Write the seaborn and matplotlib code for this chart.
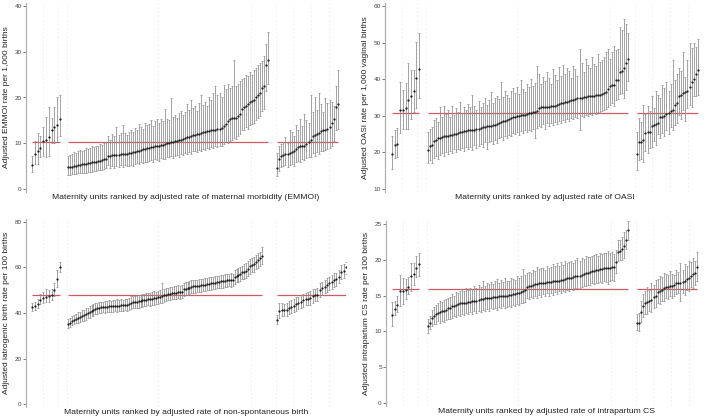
import numpy as np
import pandas as pd
import matplotlib
matplotlib.use("Agg")
import matplotlib.pyplot as plt
import seaborn as sns

# ---------------- DATA ----------------
# Panel 1: EMMOI (per 1,000 births)
emmoi_avg = 10.3
emmoi_g1_est = [5.3, 7.7, 8.2, 9.0, 10.5, 10.6, 11.4, 13.0, 13.5, 14.0, 15.3]
emmoi_g1_lo = [3.8, 5.5, 5.5, 7.0, 7.3, 7.0, 7.2, 10.0, 10.0, 10.2, 11.5]
emmoi_g1_hi = [7.3, 10.5, 12.2, 11.5, 13.5, 15.8, 18.0, 15.6, 18.0, 20.0, 20.5]
emmoi_g2_est = [4.7, 4.8, 4.9, 5.0, 5.1, 5.2, 5.3, 5.4, 5.5, 5.5,
                5.6, 5.7, 5.8, 5.9, 6.0, 6.1, 6.2, 6.3, 6.5, 6.6,
                7.3, 7.3, 7.4, 7.4, 7.5, 7.5, 7.6, 7.6, 7.7, 7.7,
                7.8, 7.9, 8.0, 8.1, 8.2, 8.4, 8.5, 8.7, 8.8, 8.9,
                9.0, 9.1, 9.2, 9.3, 9.4, 9.5, 9.6, 9.7, 9.8, 10.0,
                10.1, 10.2, 10.3, 10.4, 10.5, 10.6, 10.7, 10.9, 11.1, 11.3,
                11.4, 11.5, 11.7, 11.8, 12.0, 12.1, 12.3, 12.4, 12.5, 12.6,
                12.7, 12.8, 12.9, 13.0, 13.1, 13.2, 13.3, 13.8, 14.3, 14.8,
                15.2, 15.5, 15.5, 15.6, 16.0, 16.5, 17.5, 18.0, 18.2, 18.5,
                19.0, 19.2, 19.5, 20.0, 20.5, 21.0, 22.0, 22.5, 27.0, 28.3]
emmoi_g2_lo = [3.0, 3.1, 3.2, 3.3, 3.3, 3.4, 3.5, 3.5, 3.6, 3.6,
               3.7, 3.8, 3.8, 3.9, 4.0, 4.1, 4.1, 4.2, 4.4, 4.5,
               5.2, 4.5, 5.0, 4.6, 5.1, 4.7, 5.3, 4.8, 5.2, 5.0,
               5.1, 5.3, 5.0, 5.5, 5.6, 5.4, 5.9, 5.7, 6.0, 5.8,
               6.1, 6.3, 6.0, 6.5, 6.4, 6.2, 6.8, 6.6, 6.5, 7.0,
               6.9, 7.2, 6.8, 7.3, 7.5, 7.1, 7.6, 7.4, 7.9, 7.7,
               8.0, 7.6, 8.2, 8.4, 8.1, 8.6, 8.3, 8.8, 8.5, 9.0,
               8.8, 9.2, 9.0, 9.3, 9.1, 9.5, 9.4, 9.8, 10.2, 10.0,
               10.5, 10.8, 11.2, 10.9, 11.5, 12.0, 12.8, 13.0, 13.5, 13.2,
               14.0, 14.3, 14.5, 15.0, 15.5, 16.0, 17.0, 17.5, 21.5, 23.0]
emmoi_g2_hi = [7.3, 7.5, 7.6, 8.0, 7.9, 8.2, 8.5, 8.3, 8.6, 8.9,
               8.7, 9.0, 9.3, 9.1, 9.5, 9.4, 9.8, 9.6, 10.0, 10.2,
               11.5, 10.8, 12.0, 11.6, 13.5, 11.8, 12.3, 14.0, 12.2, 11.9,
               12.5, 13.0, 12.4, 13.4, 12.8, 14.1, 13.6, 13.2, 14.5, 13.9,
               14.2, 15.0, 13.8, 14.8, 15.2, 14.4, 15.4, 14.9, 17.5, 15.3,
               15.0, 19.8, 15.8, 16.2, 15.5, 16.6, 17.0, 16.2, 16.9, 18.5,
               17.3, 19.5, 17.8, 18.2, 17.0, 18.8, 20.5, 18.4, 19.0, 18.2,
               20.0, 19.4, 21.0, 22.5, 20.5, 21.0, 20.0, 22.8, 21.8, 23.0,
               22.0, 22.5, 28.3, 22.6, 23.0, 23.5, 24.0, 24.2, 25.0, 24.8,
               25.5, 25.0, 26.0, 26.5, 27.0, 27.5, 28.0, 29.0, 31.8, 34.3]
emmoi_g3_est = [4.6, 6.5, 7.2, 7.5, 7.6, 7.7, 7.8, 8.0, 8.3, 8.7, 9.1, 9.4, 9.5, 9.5, 9.8,
                10.3, 10.6, 11.5, 11.7, 12.0, 12.3, 12.6, 12.8, 12.9, 13.1, 13.5, 14.5, 15.3, 18.0, 18.5]
emmoi_g3_lo = [2.9, 4.0, 4.8, 5.0, 5.2, 4.9, 5.3, 5.5, 5.0, 5.8, 6.2, 6.0, 6.5, 6.3, 6.8,
               7.0, 6.9, 7.8, 7.3, 8.0, 7.6, 8.3, 8.2, 8.6, 8.8, 9.0, 9.5, 10.5, 13.0, 13.2]
emmoi_g3_hi = [7.8, 9.3, 9.8, 10.2, 11.3, 10.0, 12.8, 12.5, 11.5, 14.0, 12.8, 15.2, 13.8, 16.5, 15.0,
               14.5, 20.5, 16.8, 20.2, 17.2, 21.0, 18.5, 16.8, 19.8, 18.8, 19.5, 19.0, 18.2, 22.6, 26.0]

# Panel 2: OASI (per 1,000 vaginal births)
oasi_avg = 30.7
oasi_g1_est = [19.5, 22.0, 22.4, 31.5, 31.5, 32.2, 34.3, 35.3, 36.7, 40.2, 42.8]
oasi_g1_lo = [15.5, 18.5, 18.8, 25.2, 26.5, 26.5, 26.5, 29.0, 31.0, 32.0, 34.8]
oasi_g1_hi = [24.5, 26.0, 26.8, 39.3, 37.0, 39.0, 44.5, 42.5, 42.5, 50.3, 52.7]
oasi_g2_est = [20.7, 21.8, 22.0, 23.0, 23.3, 23.8, 24.0, 24.2, 24.4, 24.5,
               24.6, 24.7, 24.8, 25.0, 25.0, 25.2, 25.5, 25.7, 25.8, 25.9,
               26.0, 26.0, 26.1, 26.2, 26.3, 26.5, 26.7, 26.9, 27.0, 27.1,
               27.2, 27.3, 27.4, 27.5, 27.7, 28.0, 28.3, 28.5, 28.6, 28.8,
               29.0, 29.3, 29.6, 29.8, 29.9, 30.0, 30.1, 30.2, 30.3, 30.5,
               30.7, 30.9, 31.0, 31.1, 31.3, 32.2, 32.3, 32.4, 32.4, 32.5,
               32.5, 32.6, 32.7, 32.8, 33.0, 33.2, 33.4, 33.5, 33.7, 33.9,
               34.0, 34.2, 34.4, 34.6, 34.8, 34.9, 35.0, 35.1, 35.2, 35.3,
               35.4, 35.5, 35.5, 35.6, 35.7, 35.8, 35.9, 36.2, 36.5, 37.3,
               38.2, 38.4, 38.5, 39.8, 39.9, 42.0, 42.3, 43.0, 44.5, 45.5]
oasi_g2_lo = [17.0, 18.0, 17.2, 18.5, 19.0, 18.3, 19.2, 19.8, 18.9, 20.2,
              19.5, 20.4, 19.9, 20.8, 20.0, 21.0, 20.6, 21.2, 20.3, 21.5,
              20.9, 21.6, 20.7, 22.0, 21.3, 21.8, 22.4, 21.5, 22.8, 21.0,
              22.9, 23.2, 22.3, 23.5, 22.7, 23.9, 24.2, 23.4, 24.5, 23.8,
              24.8, 24.4, 25.2, 24.9, 25.5, 24.7, 25.8, 25.3, 26.0, 25.6,
              26.2, 25.9, 26.5, 24.0, 26.8, 27.3, 26.9, 27.7, 26.4, 27.9,
              27.2, 28.1, 27.5, 28.3, 27.8, 28.6, 28.0, 28.9, 28.4, 29.2,
              28.7, 29.5, 29.0, 29.8, 29.3, 26.0, 30.0, 29.6, 30.3, 29.9,
              30.5, 30.1, 30.8, 30.4, 31.0, 30.7, 31.3, 31.5, 31.8, 32.5,
              33.0, 33.4, 32.8, 34.2, 34.5, 36.0, 36.3, 34.8, 37.0, 39.5]
oasi_g2_hi = [25.5, 26.5, 27.0, 28.8, 29.5, 28.3, 32.5, 29.8, 32.8, 30.5,
              31.5, 29.6, 32.8, 30.2, 32.0, 31.0, 33.8, 30.8, 32.4, 31.6,
              33.2, 32.3, 35.8, 32.8, 31.6, 34.0, 32.5, 33.5, 35.0, 33.0,
              34.2, 36.5, 33.6, 34.8, 35.5, 34.6, 39.3, 35.2, 36.8, 35.8,
              35.0, 36.7, 37.5, 36.2, 38.0, 36.0, 39.8, 37.2, 36.5, 38.6,
              37.8, 40.0, 38.2, 39.0, 43.5, 41.5, 38.8, 40.5, 39.5, 42.0,
              40.2, 38.8, 42.8, 41.2, 39.8, 43.2, 40.8, 44.0, 41.5, 43.0,
              42.2, 40.4, 43.5, 42.8, 41.0, 48.2, 44.5, 42.0, 45.5, 43.8,
              43.0, 46.0, 44.2, 43.6, 47.0, 44.8, 45.2, 46.2, 47.5, 48.2,
              45.5, 47.5, 49.0, 48.0, 48.3, 54.2, 53.5, 56.5, 55.0, 52.5]
oasi_g3_est = [19.5, 22.8, 22.9, 23.5, 25.4, 25.5, 25.6, 27.3, 27.5, 27.8, 28.0, 29.6, 29.8, 29.9, 30.5,
               30.8, 31.3, 31.5, 33.0, 33.5, 35.5, 35.8, 36.2, 36.5, 36.8, 38.0, 39.3, 40.0, 41.5, 42.5]
oasi_g3_lo = [15.2, 17.8, 18.2, 17.3, 20.5, 19.8, 21.2, 21.5, 23.0, 22.0, 25.0, 23.8, 25.2, 24.6, 26.0,
              25.0, 27.0, 26.2, 27.5, 28.0, 30.2, 29.0, 31.5, 28.6, 32.0, 33.0, 32.5, 35.5, 35.5, 35.8]
oasi_g3_hi = [25.5, 29.3, 28.2, 33.0, 30.5, 32.8, 31.2, 35.5, 32.2, 36.8, 35.8, 35.0, 38.3, 37.5, 39.3,
              36.8, 38.6, 45.3, 39.8, 41.5, 43.0, 42.2, 47.5, 40.5, 45.2, 49.8, 48.5, 50.0, 48.8, 51.0]

# Panel 3: iatrogenic / non-spontaneous birth (per 100 births)
iatro_avg = 48.0
iatro_g1_est = [42.7, 43.0, 43.9, 45.6, 46.8, 47.1, 47.4, 48.0, 50.3, 55.1, 60.0]
iatro_g1_lo = [41.0, 41.5, 42.0, 43.8, 44.5, 44.8, 44.8, 45.5, 47.5, 51.5, 57.8]
iatro_g1_hi = [44.5, 44.8, 46.0, 48.2, 49.2, 50.5, 50.3, 50.6, 53.2, 58.7, 62.2]
iatro_g2_est = [35.3, 35.8, 36.5, 37.0, 37.5, 37.9, 38.3, 38.7, 39.0, 39.5,
                40.0, 40.5, 41.0, 41.3, 41.8, 42.0, 42.3, 42.5, 42.6, 42.7,
                42.8, 42.9, 43.0, 43.0, 43.1, 43.1, 43.2, 43.3, 43.4, 43.5,
                43.6, 43.8, 44.6, 44.8, 44.9, 45.0, 45.1, 45.3, 45.5, 45.7,
                45.9, 46.0, 46.1, 46.3, 46.5, 46.7, 46.9, 47.2, 47.5, 47.8,
                48.1, 48.3, 48.5, 48.7, 48.9, 49.0, 49.1, 49.2, 49.3, 50.4,
                50.6, 50.9, 51.2, 51.5, 51.7, 51.8, 51.9, 52.0, 52.1, 52.3,
                52.5, 52.7, 52.9, 53.0, 53.1, 53.3, 53.5, 53.7, 53.9, 54.1,
                54.2, 54.3, 54.4, 54.5, 54.6, 55.8, 56.3, 56.8, 57.2, 57.8,
                58.2, 58.6, 59.5, 60.5, 61.0, 61.5, 62.5, 63.2, 64.0, 65.0]
iatro_g2_lo = [33.5, 33.9, 34.6, 35.0, 35.4, 35.6, 36.0, 36.3, 36.7, 37.0,
               37.6, 37.9, 38.6, 38.8, 39.4, 39.5, 39.9, 40.0, 40.3, 40.2,
               40.4, 40.5, 40.6, 40.4, 40.7, 40.6, 40.9, 40.8, 41.0, 41.1,
               41.0, 41.3, 41.9, 42.2, 42.1, 42.4, 42.3, 42.6, 42.7, 43.0,
               43.1, 43.4, 43.2, 43.6, 43.7, 44.0, 44.0, 44.5, 44.3, 45.0,
               45.3, 45.5, 45.6, 46.0, 46.1, 46.2, 46.4, 46.3, 46.6, 47.5,
               47.8, 48.0, 48.4, 48.6, 49.0, 48.9, 49.2, 49.1, 49.4, 49.5,
               49.8, 49.9, 50.2, 50.1, 50.4, 50.5, 50.8, 50.9, 51.2, 51.2,
               51.5, 51.4, 51.7, 51.6, 51.9, 52.8, 53.5, 53.7, 54.2, 54.8,
               55.0, 55.5, 56.3, 57.3, 57.8, 58.2, 59.3, 59.6, 60.6, 61.5]
iatro_g2_hi = [37.5, 37.8, 38.6, 39.2, 39.7, 40.3, 40.6, 41.2, 41.4, 42.0,
               42.4, 43.1, 43.4, 43.9, 44.2, 44.6, 44.7, 45.0, 45.0, 45.3,
               45.2, 45.5, 45.4, 45.7, 45.5, 46.0, 45.6, 46.1, 45.9, 46.2,
               46.3, 46.4, 47.3, 47.5, 47.6, 47.7, 47.9, 48.1, 48.4, 48.2,
               48.8, 48.7, 49.0, 49.2, 49.5, 49.4, 49.8, 50.0, 53.0, 50.6,
               51.0, 51.1, 51.4, 51.5, 51.9, 51.8, 52.1, 52.0, 52.3, 53.2,
               53.5, 53.7, 54.0, 54.3, 54.4, 54.6, 54.7, 54.9, 54.8, 55.1,
               55.3, 55.4, 55.7, 55.8, 56.0, 56.1, 56.3, 56.4, 56.7, 56.9,
               57.0, 57.2, 57.2, 57.4, 57.3, 58.7, 59.2, 59.8, 60.2, 60.8,
               61.4, 61.8, 62.8, 63.8, 64.3, 64.8, 65.7, 66.2, 67.0, 68.8]
iatro_g3_est = [37.0, 41.0, 41.2, 41.3, 41.5, 42.2, 42.8, 43.2, 44.0, 44.3, 44.9, 45.5, 46.0, 46.3, 46.6,
                47.3, 47.8, 48.0, 50.0, 50.8, 51.5, 52.3, 53.0, 53.5, 54.5, 54.8, 56.0, 58.0, 58.5, 60.0]
iatro_g3_lo = [35.0, 38.0, 38.5, 38.7, 38.8, 39.4, 40.0, 40.5, 41.0, 41.6, 42.0, 42.8, 43.3, 43.5, 43.5,
               44.3, 45.2, 45.3, 47.0, 48.0, 48.6, 49.3, 50.2, 50.6, 51.6, 51.8, 53.0, 55.0, 55.5, 57.3]
iatro_g3_hi = [39.2, 44.5, 44.2, 44.0, 44.5, 45.2, 45.6, 46.0, 47.0, 47.2, 47.9, 48.3, 48.8, 49.2, 49.8,
               50.4, 50.6, 50.9, 53.0, 53.8, 54.5, 55.2, 55.8, 56.5, 57.5, 57.6, 59.0, 61.0, 61.5, 62.5]

# Panel 4: intrapartum CS (per 100 births)
cs_avg = 15.9
cs_g1_est = [12.3, 13.1, 13.7, 15.6, 15.7, 15.8, 16.2, 17.8, 18.0, 18.9, 19.4]
cs_g1_lo = [10.8, 12.3, 12.7, 13.6, 13.8, 14.5, 15.2, 15.7, 16.5, 17.6, 17.8]
cs_g1_hi = [14.1, 14.2, 14.9, 17.9, 17.5, 17.3, 17.6, 19.6, 19.6, 20.5, 21.0]
cs_g2_est = [10.7, 11.2, 11.9, 12.2, 12.4, 12.6, 12.7, 12.8, 12.9, 13.0,
             13.2, 13.3, 13.5, 13.6, 13.7, 13.8, 13.9, 14.0, 14.0, 14.0,
             14.1, 14.1, 14.2, 14.3, 14.3, 14.4, 14.5, 14.5, 14.6, 14.6,
             14.7, 14.7, 14.8, 14.8, 14.8, 14.9, 14.9, 15.0, 15.0, 15.0,
             15.1, 15.1, 15.2, 15.2, 15.3, 15.4, 15.5, 15.6, 15.8, 16.2,
             16.3, 16.4, 16.5, 16.6, 16.6, 16.7, 16.7, 16.8, 16.8, 16.9,
             16.9, 16.9, 17.0, 17.0, 17.1, 17.1, 17.2, 17.2, 17.3, 17.4,
             17.5, 17.5, 17.6, 17.7, 17.7, 17.8, 17.9, 18.0, 18.1, 18.2,
             18.3, 18.4, 18.5, 18.6, 18.6, 18.7, 18.7, 18.8, 18.8, 18.8,
             18.9, 19.0, 19.0, 19.7, 21.1, 21.2, 21.5, 21.9, 22.8, 24.1]
cs_g2_lo = [9.8, 10.3, 10.8, 11.0, 11.1, 11.4, 11.2, 11.5, 11.3, 11.6,
            11.7, 11.8, 11.9, 12.2, 12.0, 12.3, 12.1, 12.5, 12.3, 12.6,
            12.4, 12.7, 12.5, 12.8, 12.6, 12.9, 12.7, 13.0, 12.8, 13.1,
            12.9, 13.2, 13.1, 13.3, 13.0, 13.4, 13.2, 13.5, 13.3, 13.4,
            13.6, 13.4, 13.7, 13.5, 13.8, 13.7, 13.9, 14.0, 14.1, 14.6,
            14.5, 14.8, 14.7, 15.0, 14.6, 15.1, 14.8, 15.2, 14.9, 15.3,
            15.0, 15.3, 15.1, 15.5, 15.2, 15.6, 15.4, 15.7, 15.5, 15.8,
            15.6, 15.9, 15.8, 16.0, 16.0, 16.1, 16.2, 16.3, 16.4, 16.5,
            16.5, 16.7, 16.6, 16.8, 16.7, 16.9, 16.8, 17.0, 16.9, 16.6,
            17.1, 17.2, 17.0, 18.2, 19.8, 20.0, 20.0, 20.2, 21.5, 22.8]
cs_g2_hi = [11.7, 12.2, 13.0, 13.4, 13.7, 13.9, 14.2, 14.1, 14.4, 14.5,
            14.7, 14.8, 15.2, 15.0, 15.5, 15.3, 15.6, 15.9, 15.6, 16.0,
            15.8, 16.1, 15.9, 16.3, 16.0, 16.5, 16.2, 17.1, 16.4, 16.7,
            16.6, 16.9, 16.6, 17.0, 17.3, 16.8, 17.2, 16.9, 17.4, 17.1,
            17.0, 17.5, 17.3, 17.2, 17.7, 17.5, 17.8, 18.7, 17.9, 18.2,
            18.3, 18.1, 18.6, 18.4, 19.0, 18.7, 18.8, 18.9, 18.6, 19.2,
            18.9, 19.0, 19.4, 19.1, 19.5, 19.2, 19.7, 19.3, 19.8, 19.5,
            19.7, 19.9, 19.6, 20.0, 20.2, 19.9, 20.3, 20.1, 20.5, 20.4,
            20.4, 20.6, 20.7, 20.8, 20.6, 20.9, 20.8, 21.0, 20.9, 21.2,
            20.9, 21.1, 20.8, 21.3, 22.8, 22.8, 23.2, 23.9, 24.2, 25.4]
cs_g3_est = [11.2, 11.2, 12.7, 13.6, 14.0, 14.1, 14.2, 14.4, 14.8, 15.0, 15.5, 15.6, 15.8, 16.0, 16.2,
             16.2, 16.3, 16.4, 16.5, 16.8, 16.8, 16.8, 16.9, 17.0, 17.3, 17.5, 17.8, 18.0, 18.1, 19.0]
cs_g3_lo = [10.2, 10.0, 11.3, 12.0, 12.5, 12.4, 12.8, 12.7, 13.3, 13.4, 14.0, 13.8, 14.3, 14.2, 14.7,
            14.5, 14.9, 14.6, 15.0, 15.2, 15.3, 14.3, 15.3, 15.1, 15.8, 15.6, 16.2, 16.1, 16.5, 17.0]
cs_g3_hi = [12.4, 12.6, 14.3, 15.2, 15.7, 16.2, 15.8, 16.8, 16.5, 17.2, 17.3, 17.8, 17.6, 18.1, 18.0,
            17.9, 18.4, 18.0, 17.9, 18.6, 18.3, 19.5, 18.6, 19.4, 19.1, 19.8, 19.7, 20.2, 19.8, 21.1]

panels = [
    dict(avg=emmoi_avg,
         groups=[(emmoi_g1_est, emmoi_g1_lo, emmoi_g1_hi),
                 (emmoi_g2_est, emmoi_g2_lo, emmoi_g2_hi),
                 (emmoi_g3_est, emmoi_g3_lo, emmoi_g3_hi)],
         yticks=[0, 10, 20, 30, 40], ylim=(-0.66, 40.66),
         ylabel="Adjusted EMMOI rate per 1,000 births",
         xlabel="Maternity units ranked by adjusted rate of maternal morbidity (EMMOI)"),
    dict(avg=oasi_avg,
         groups=[(oasi_g1_est, oasi_g1_lo, oasi_g1_hi),
                 (oasi_g2_est, oasi_g2_lo, oasi_g2_hi),
                 (oasi_g3_est, oasi_g3_lo, oasi_g3_hi)],
         yticks=[10, 20, 30, 40, 50, 60], ylim=(9.18, 60.82),
         ylabel="Adjusted OASI rate per 1,000 vaginal births",
         xlabel="Maternity units ranked by adjusted rate of OASI"),
    dict(avg=iatro_avg,
         groups=[(iatro_g1_est, iatro_g1_lo, iatro_g1_hi),
                 (iatro_g2_est, iatro_g2_lo, iatro_g2_hi),
                 (iatro_g3_est, iatro_g3_lo, iatro_g3_hi)],
         yticks=[0, 20, 40, 60, 80], ylim=(-1.3, 81.3),
         ylabel="Adjusted iatrogenic birth rate per 100 births",
         xlabel="Maternity units ranked by adjusted rate of non-spontaneous birth"),
    dict(avg=cs_avg,
         groups=[(cs_g1_est, cs_g1_lo, cs_g1_hi),
                 (cs_g2_est, cs_g2_lo, cs_g2_hi),
                 (cs_g3_est, cs_g3_lo, cs_g3_hi)],
         yticks=[0, 5, 10, 15, 20, 25], ylim=(-0.42, 25.42),
         ylabel="Adjusted intrapartum CS rate per 100 births",
         xlabel="Maternity units ranked by adjusted rate of intrapartum CS"),
]

# ---------------- LAYOUT ----------------
W, H = 709, 420
# axes boxes in pixels: left, top, right, bottom
boxes = [(26, 3, 345, 192), (385, 3, 705, 192), (26, 219, 346, 407), (386, 221, 706, 406)]
# horizontal extents of the three unit groups (pixels relative to axes left)
spans = [[(6, 34), (42, 242), (251, 312)],
         [(7, 34), (43, 243), (252, 313)],
         [(6, 34), (42, 236), (251, 320)],
         [(6, 33), (42, 242), (251, 311)]]
grid_x = [17, 32, 41, 132, 225, 250, 267, 285, 303]

sns.set_theme(style="white")
plt.rcParams['font.family'] = ['Liberation Sans', 'DejaVu Sans']

fig = plt.figure(figsize=(W / 100, H / 100), dpi=100)
fig.patch.set_facecolor("white")

for p, box, sp in zip(panels, boxes, spans):
    l, t, r, b = box
    ax = fig.add_axes([l / W, 1 - b / H, (r - l) / W, (b - t) / H])
    ax.set_xlim(0, r - l)
    ax.set_ylim(*p["ylim"])
    for gx in grid_x:
        ax.axvline(gx, color="#ebebeb", lw=0.5, ls=(0, (3, 3)), zorder=0)
    frames = []
    for (est, lo, hi), (x0, x1) in zip(p["groups"], sp):
        n = len(est)
        xs = np.linspace(x0, x1, n)
        df = pd.DataFrame({"x": xs, "est": est, "lo": lo, "hi": hi})
        frames.append(df)
        ax.hlines(p["avg"], x0, x1, color="#cf5a60", lw=0.9, zorder=1)
        ax.errorbar(df["x"], df["est"],
                    yerr=[df["est"] - df["lo"], df["hi"] - df["est"]],
                    fmt="none", ecolor="#8a8a8a", elinewidth=0.55,
                    capsize=0.9, capthick=0.5, zorder=2)
    alldf = pd.concat(frames, ignore_index=True)
    sns.scatterplot(data=alldf, x="x", y="est", ax=ax, s=2.6, color="#1e1e1e",
                    linewidth=0, zorder=3, legend=False)
    ax.set_yticks(p["yticks"])
    ax.set_xticks([])
    ax.tick_params(axis="y", labelsize=4.6, length=2, width=0.5, pad=1,
                   colors="#444444", left=True)
    for s in ["top", "right", "bottom"]:
        ax.spines[s].set_visible(False)
    ax.spines["left"].set_color("#b0b0b0")
    ax.spines["left"].set_linewidth(0.9)
    ax.set_ylabel(p["ylabel"], fontsize=6.0, color="#222222", labelpad=3)
    ax.set_xlabel(p["xlabel"], fontsize=6.1, color="#222222", labelpad=1.5)
    ax.set_facecolor("white")

fig.savefig("out.png", dpi=100)
